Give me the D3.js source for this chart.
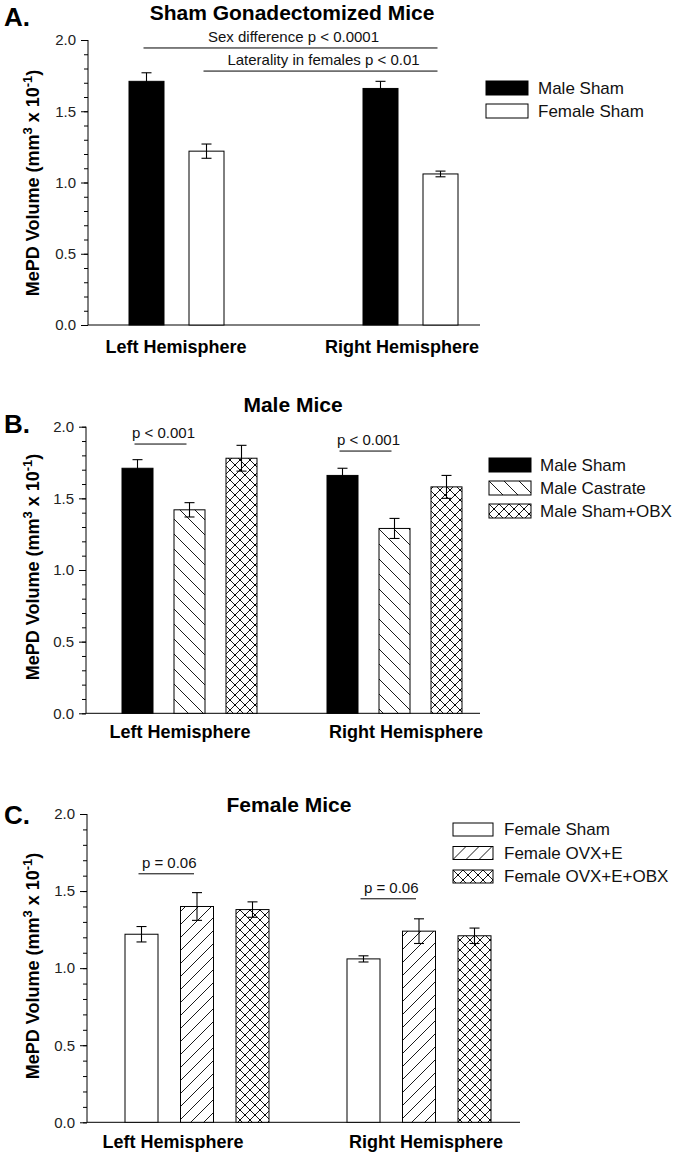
<!DOCTYPE html>
<html><head><meta charset="utf-8">
<script src="https://cdn.jsdelivr.net/npm/d3@7"></script>
<style>body{margin:0;background:#fff}svg{display:block}text{font-family:Arial,"Liberation Sans",sans-serif}</style>
</head><body>
<svg id="chart" width="686" height="1158"></svg>
<script>
// ---------- DATA ----------
const hemispheres = ["Left Hemisphere", "Right Hemisphere"];
const yTickValues = [0.0, 0.5, 1.0, 1.5, 2.0];
const yLabel = "MePD Volume (mm";

// Panel A
const titleA = "Sham Gonadectomized Mice";
const seriesA = ["Male Sham", "Female Sham"];
const meanA = [[1.71, 1.66], [1.22, 1.06]];   // [series][hemisphere]
const semA  = [[0.06, 0.05], [0.05, 0.02]];
const notesA = [
  {text: "Sex difference p < 0.0001",        from: [0, 0], to: [1, 1], y: 1.944},
  {text: "Laterality in females p < 0.01",   from: [0, 1], to: [1, 1], y: 1.782}
];
// Panel B
const titleB = "Male Mice";
const seriesB = ["Male Sham", "Male Castrate", "Male Sham+OBX"];
const meanB = [[1.71, 1.66], [1.42, 1.29], [1.78, 1.58]];
const semB  = [[0.06, 0.05], [0.05, 0.07], [0.09, 0.08]];
const notesB = [
  {text: "p < 0.001", from: [0, 0], to: [0, 1], y: 1.879},
  {text: "p < 0.001", from: [1, 0], to: [1, 1], y: 1.83}
];
// Panel C
const titleC = "Female Mice";
const seriesC = ["Female Sham", "Female OVX+E", "Female OVX+E+OBX"];
const meanC = [[1.22, 1.06], [1.40, 1.24], [1.38, 1.21]];
const semC  = [[0.05, 0.02], [0.09, 0.08], [0.05, 0.05]];
const notesC = [
  {text: "p = 0.06", from: [0, 0], to: [0, 1], y: 1.612},
  {text: "p = 0.06", from: [1, 0], to: [1, 1], y: 1.45}
];

// ---------- STYLE / LAYOUT ----------
const svg = d3.select("#chart");
const defs = svg.append("defs");

function hatch(id, p, kind) {
  const pat = defs.append("pattern").attr("id", id).attr("patternUnits", "userSpaceOnUse")
    .attr("width", p).attr("height", p);
  pat.append("rect").attr("width", p).attr("height", p).attr("fill", "#fff");
  const back = `M0,0 L${p},${p} M${-p/4},${3*p/4} L${p/4},${5*p/4} M${3*p/4},${-p/4} L${5*p/4},${p/4}`;
  const fwd = `M0,${p} L${p},0 M${-p/4},${p/4} L${p/4},${-p/4} M${3*p/4},${5*p/4} L${5*p/4},${3*p/4}`;
  let d = kind === "back" ? back : kind === "fwd" ? fwd : back + " " + fwd;
  pat.append("path").attr("d", d).attr("stroke", "#000").attr("stroke-width", 0.9).attr("fill", "none");
  if (kind === "cross") {
    [[0,0],[p,0],[0,p],[p,p],[p/2,p/2]].forEach(([cx,cy]) =>
      pat.append("circle").attr("cx", cx).attr("cy", cy).attr("r", 1).attr("fill", "#000"));
  }
}
hatch("hBack", 15, "back");
hatch("hFwd", 13, "fwd");
hatch("hCross", 10, "cross");

const fills = {
  "Male Sham": "#000",
  "Female Sham": "#fff",
  "Male Castrate": "url(#hBack)",
  "Male Sham+OBX": "url(#hCross)",
  "Female OVX+E": "url(#hFwd)",
  "Female OVX+E+OBX": "url(#hCross)"
};

const panels = [
  {letter: "A.", letterY: 26, title: titleA, titleX: 292, titleY: 20, series: seriesA, mean: meanA, sem: semA, notes: notesA,
   axisX: 88, axisEnd: 480, yTop: 40, yBottom: 325, gStart: 129, gStep: 234, barStep: 60, barW: 35,
   labelRange: [176, 402], labelY: 353, ylabelY: 183,
   legX: 486, legY: 81, legW: 42, legH: 14, legStep: 23, legTextX: 538},
  {letter: "B.", letterY: 433, title: titleB, titleX: 293, titleY: 412, series: seriesB, mean: meanB, sem: semB, notes: notesB,
   axisX: 86, axisEnd: 480, yTop: 426.7, yBottom: 713.3, gStart: 122, gStep: 205, barStep: 52, barW: 31,
   labelRange: [180, 406], labelY: 738, ylabelY: 567,
   legX: 489, legY: 458, legW: 42, legH: 14, legStep: 23, legTextX: 540},
  {letter: "C.", letterY: 824, title: titleC, titleX: 289, titleY: 812, series: seriesC, mean: meanC, sem: semC, notes: notesC,
   axisX: 87, axisEnd: 520, yTop: 814, yBottom: 1122.3, gStart: 125, gStep: 222, barStep: 55.5, barW: 33,
   labelRange: [173, 426], labelY: 1148, ylabelY: 966,
   legX: 453, legY: 823, legW: 40, legH: 13, legStep: 23.5, legTextX: 504}
];

panels.forEach(P => {
  const g = svg.append("g");
  const y = d3.scaleLinear().domain([0, 2]).range([P.yBottom, P.yTop]);
  const n = P.series.length;
  const outer = d3.scaleBand().domain(hemispheres).range([P.gStart, P.gStart + 2 * P.gStep]).paddingInner(0).paddingOuter(0);
  const inner = d3.scaleBand().domain(P.series)
    .range([0, (n - 1) * P.barStep + P.barW]).paddingInner((P.barStep - P.barW) / P.barStep).paddingOuter(0);
  const labelX = d3.scalePoint().domain(hemispheres).range(P.labelRange);
  const barCenter = (hi, si) => outer(hemispheres[hi]) + inner(P.series[si]) + inner.bandwidth() / 2;

  // panel letter and title
  g.append("text").attr("x", 4).attr("y", P.letterY).attr("font-size", 26).attr("font-weight", "bold").text(P.letter);
  g.append("text").attr("x", P.titleX).attr("y", P.titleY).attr("text-anchor", "middle")
    .attr("font-size", 21).attr("font-weight", "bold").text(P.title);

  // y axis: minor ticks every 0.1
  const yAxisMinor = d3.axisLeft(y).tickValues(d3.range(0, 21).map(i => i / 10)).tickSize(4).tickFormat("");
  const yAxisMajor = d3.axisLeft(y).tickValues(yTickValues).tickSize(7).tickPadding(5).tickFormat(d3.format(".1f"));
  const ax1 = g.append("g").attr("transform", `translate(${P.axisX},0)`).call(yAxisMinor);
  ax1.select(".domain").remove();
  const ax2 = g.append("g").attr("transform", `translate(${P.axisX},0)`).call(yAxisMajor);
  ax2.select(".domain").attr("d", `M0,${P.yTop}V${P.yBottom}`).attr("stroke", "#000");
  ax2.selectAll("text").attr("font-size", 15).attr("fill", "#222").attr("font-family", "Arial, 'Liberation Sans', sans-serif");
  g.selectAll(".tick line").attr("stroke", "#000");

  // x axis baseline
  const xAxis = d3.axisBottom(labelX).tickSize(0).tickFormat("");
  const xa = g.append("g").attr("transform", `translate(0,${P.yBottom})`).call(xAxis);
  xa.select(".domain").attr("d", `M${P.axisX},0H${P.axisEnd}`).attr("stroke", "#000");
  // category labels
  g.selectAll(".cat").data(hemispheres).enter().append("text")
    .attr("x", d => labelX(d)).attr("y", P.labelY).attr("text-anchor", "middle")
    .attr("font-size", 18).attr("font-weight", "bold").text(d => d);

  // y label
  const yl = g.append("text").attr("transform", `translate(39,${P.ylabelY}) rotate(-90)`)
    .attr("text-anchor", "middle").attr("font-size", 18).attr("font-weight", "bold");
  yl.append("tspan").text(yLabel);
  yl.append("tspan").attr("dy", -7).attr("font-size", 13).text("3");
  yl.append("tspan").attr("dy", 7).text(" x 10");
  yl.append("tspan").attr("dy", -7).attr("font-size", 13).text("-1");
  yl.append("tspan").attr("dy", 7).text(")");

  // bars
  const cells = [];
  P.series.forEach((s, si) => hemispheres.forEach((h, hi) =>
    cells.push({s, si, h, hi, v: P.mean[si][hi], e: P.sem[si][hi]})));
  g.selectAll(".bar").data(cells).enter().append("rect")
    .attr("x", d => outer(d.h) + inner(d.s)).attr("width", inner.bandwidth())
    .attr("y", d => y(d.v)).attr("height", d => y(0) - y(d.v))
    .attr("fill", d => fills[d.s]).attr("stroke", "#000").attr("stroke-width", 1);

  // error bars
  const eb = g.selectAll(".err").data(cells).enter().append("g")
    .attr("stroke", "#000").attr("stroke-width", 1.1);
  eb.append("line").attr("x1", d => barCenter(d.hi, d.si)).attr("x2", d => barCenter(d.hi, d.si))
    .attr("y1", d => y(d.v - d.e)).attr("y2", d => y(d.v + d.e));
  eb.append("line").attr("x1", d => barCenter(d.hi, d.si) - 5).attr("x2", d => barCenter(d.hi, d.si) + 5)
    .attr("y1", d => y(d.v + d.e)).attr("y2", d => y(d.v + d.e));
  eb.append("line").attr("x1", d => barCenter(d.hi, d.si) - 5).attr("x2", d => barCenter(d.hi, d.si) + 5)
    .attr("y1", d => y(d.v - d.e)).attr("y2", d => y(d.v - d.e));

  // significance notes
  P.notes.forEach(nt => {
    const x1 = barCenter(nt.from[0], nt.from[1]), x2 = barCenter(nt.to[0], nt.to[1]);
    g.append("line").attr("x1", x1 - 3).attr("x2", x2 - 3).attr("y1", y(nt.y)).attr("y2", y(nt.y))
      .attr("stroke", "#000").attr("stroke-width", 1);
    g.append("text").attr("x", (x1 + x2) / 2).attr("y", y(nt.y) - 6).attr("text-anchor", "middle")
      .attr("font-size", 15).attr("fill", "#111").text(nt.text);
  });

  // legend
  const lg = g.selectAll(".leg").data(P.series).enter().append("g")
    .attr("transform", (d, i) => `translate(${P.legX},${P.legY + i * P.legStep})`);
  lg.append("rect").attr("width", P.legW).attr("height", P.legH).attr("fill", d => fills[d])
    .attr("stroke", "#000").attr("stroke-width", 1);
  lg.append("text").attr("x", P.legTextX - P.legX).attr("y", P.legH - 1)
    .attr("font-size", 17).attr("fill", "#111").text(d => d);
});
</script>
</body></html>
